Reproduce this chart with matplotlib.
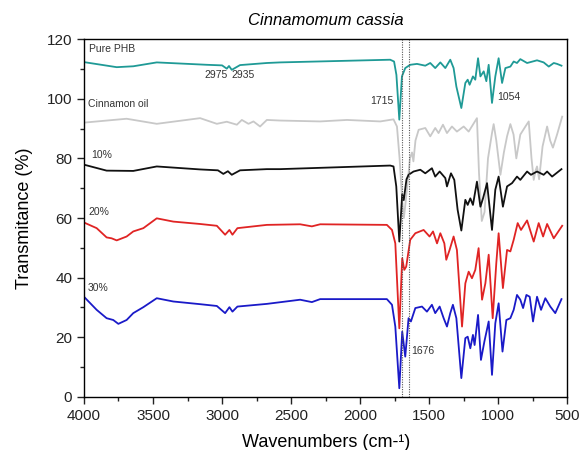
import matplotlib.pyplot as plt
from matplotlib.ticker import MultipleLocator

plt.rcParams["font.family"] = ["Liberation Sans", "DejaVu Sans"]

# Pure PHB
phb_wn = [4000, 3763, 3643, 3473, 3111, 3000, 2966, 2950, 2930, 2870, 2676, 2580,
          1783, 1755, 1738, 1717, 1698, 1674, 1638, 1589, 1529, 1493, 1457, 1420,
          1384, 1348, 1324, 1304, 1268, 1239, 1222, 1208, 1184, 1167, 1147, 1130,
          1106, 1087, 1070, 1046, 1022, 998, 973, 949, 913, 889, 865, 841, 792,
          720, 672, 635, 599, 575, 543]
phb_t = [112.3, 110.6, 110.9, 112.2, 111.4, 111.2, 110.1, 111.0, 109.7, 111.3, 112.0, 112.2,
         113.1, 112.5, 108.0, 93.0, 107.5, 110.3, 111.4, 111.7, 111.1, 112.0, 110.3, 112.2,
         110.3, 113.1, 110.3, 104.1, 96.9, 105.3, 106.4, 104.7, 107.5, 106.4, 113.6, 107.5,
         109.2, 105.9, 111.4, 98.6, 107.5, 113.6, 105.3, 110.3, 110.8, 112.5, 112.0, 113.3, 112.0,
         112.9, 112.2, 110.8, 112.0, 111.7, 111.1]

# Cinnamon oil
oil_wn = [4000, 3691, 3473, 3159, 3038, 2966, 2893, 2857, 2809, 2773, 2725, 2676, 2580,
          2290, 2096, 1855, 1759, 1734, 1715, 1695, 1684, 1670, 1650, 1640, 1625, 1615,
          1600, 1577, 1529, 1493, 1457, 1433, 1401, 1372, 1336, 1300, 1251, 1215, 1155,
          1140, 1120, 1100, 1075, 1046, 1034, 1015, 985, 960, 937, 913, 890, 870, 841,
          800, 780, 760, 744, 730, 720, 705, 680, 647, 625, 605, 575, 538]
oil_t = [92.0, 93.3, 91.6, 93.5, 91.6, 92.3, 91.3, 92.9, 91.6, 92.4, 90.7, 92.9, 92.7,
         92.4, 92.9, 92.4, 93.1, 90.7, 80.0, 65.0, 60.0, 66.0, 75.0, 80.0, 82.0, 79.0,
         86.0, 89.6, 90.2, 87.4, 90.2, 88.5, 91.3, 88.5, 90.7, 89.0, 90.7, 89.0, 93.5,
         75.0, 59.0, 62.0, 80.0, 88.5, 91.5, 86.0, 74.5, 82.0, 87.4, 91.5, 88.0, 80.0, 88.0,
         91.0, 92.4, 80.0, 72.8, 76.0, 77.3, 73.0, 84.0, 90.7, 86.0, 83.6, 88.0, 94.0]

# 10 %
p10_wn = [4000, 3836, 3643, 3473, 3159, 3030, 2991, 2958, 2930, 2870, 2676, 2580,
          1783, 1759, 1739, 1717, 1696, 1685, 1665, 1650, 1614, 1565, 1529, 1481, 1457,
          1425, 1384, 1372, 1343, 1319, 1295, 1268, 1239, 1222, 1203, 1184, 1155, 1130,
          1111, 1082, 1046, 1022, 998, 967, 937, 901, 865, 841, 792, 764, 720, 672, 647,
          611, 543]
p10_t = [77.9, 75.9, 75.8, 77.3, 76.3, 76.0, 74.8, 75.7, 74.5, 76.0, 76.4, 76.4,
         77.6, 77.3, 70.6, 52.1, 68.0, 66.0, 73.0, 74.5, 75.6, 76.2, 75.0, 76.7, 73.9,
         75.6, 73.4, 70.6, 75.0, 72.8, 62.8, 55.8, 66.1, 64.4, 66.6, 64.4, 72.2, 63.8,
         66.6, 71.7, 56.0, 69.5, 73.9, 63.8, 70.6, 71.7, 73.9, 72.8, 75.6, 74.5, 75.6, 74.5, 75.6,
         73.9, 76.4]

# 20 %
p20_wn = [4000, 3908, 3836, 3800, 3763, 3691, 3643, 3570, 3473, 3353, 3159, 3038, 2978,
          2947, 2925, 2889, 2676, 2435, 2350, 2290, 1807, 1770, 1746, 1717, 1696, 1681,
          1667, 1638, 1601, 1541, 1498, 1473, 1444, 1420, 1391, 1377, 1353, 1324, 1300,
          1263, 1239, 1215, 1191, 1167, 1143, 1118, 1094, 1070, 1041, 1015, 998, 967,
          937, 913, 889, 860, 836, 792, 744, 708, 676, 647, 599, 538]
p20_t = [58.5, 56.6, 53.5, 53.2, 52.5, 53.8, 55.5, 56.6, 59.9, 58.8, 58.0, 57.4, 54.4,
         56.0, 54.4, 56.6, 57.7, 57.9, 57.2, 57.9, 57.7, 56.0, 51.5, 23.0, 46.5, 42.6,
         43.7, 52.7, 54.9, 56.0, 53.8, 55.5, 51.5, 54.9, 51.5, 46.0, 49.3, 53.8, 49.3,
         23.6, 38.1, 42.0, 39.8, 42.6, 49.9, 32.6, 38.1, 47.7, 26.4, 44.8, 54.9, 36.5,
         49.3, 48.8, 52.7, 58.3, 56.0, 59.2, 52.1, 58.3, 53.8, 58.0, 53.2, 57.4]

# 30 %
p30_wn = [4000, 3908, 3836, 3788, 3751, 3691, 3643, 3570, 3473, 3353, 3159, 3038, 2978,
          2947, 2925, 2889, 2676, 2435, 2350, 2290, 1807, 1770, 1746, 1717, 1696, 1674,
          1650, 1633, 1601, 1553, 1517, 1481, 1457, 1425, 1396, 1372, 1348, 1329, 1304,
          1268, 1239, 1222, 1203, 1184, 1172, 1147, 1126, 1101, 1070, 1046, 1022, 998,
          970, 942, 913, 889, 865, 841, 821, 797, 773, 749, 720, 691, 660, 624, 588, 543]
p30_t = [33.6, 29.2, 26.4, 25.8, 24.5, 25.8, 28.1, 30.1, 33.1, 32.0, 31.1, 30.5, 28.1,
         30.1, 28.6, 30.3, 31.2, 32.6, 31.8, 32.8, 32.8, 30.9, 23.6, 2.9, 21.9, 13.5,
         26.4, 25.3, 29.8, 30.3, 28.6, 30.9, 28.1, 30.3, 26.4, 23.6, 28.1, 30.9, 26.4,
         6.3, 19.7, 20.2, 16.3, 20.8, 17.4, 27.5, 12.4, 18.6, 25.3, 7.4, 24.7, 31.4,
         15.2, 25.8, 26.4, 29.2, 34.2, 32.6, 29.8, 34.2, 33.6, 25.3, 33.6, 29.2, 33.1, 30.3, 28.1, 32.8]

marker_lines = [1700, 1650]

fig = plt.figure(figsize=(5.79, 4.5), dpi=100)
ax = fig.add_axes([0.145, 0.118, 0.835, 0.795])

lw = 1.3
ax.plot(phb_wn, phb_t, color="#1f9a96", lw=lw)
ax.plot(oil_wn, oil_t, color="#c8c8c8", lw=lw)
ax.plot(p10_wn, p10_t, color="#111111", lw=lw)
ax.plot(p20_wn, p20_t, color="#e02424", lw=lw)
ax.plot(p30_wn, p30_t, color="#1a1ac8", lw=lw)

for w in marker_lines:
    ax.axvline(w, color="#555555", ls=(0, (1, 1.2)), lw=0.8)

lab = dict(fontsize=7.5, color="#333333")
ax.text(3965, 115, "Pure PHB", va="bottom", **lab)
ax.text(3972, 96.5, "Cinnamon oil", va="bottom", **lab)
ax.text(3950, 79.5, "10%", va="bottom", **lab)
ax.text(3970, 60.5, "20%", va="bottom", **lab)
ax.text(3970, 34.8, "30%", va="bottom", **lab)
ax.text(3043, 108, "2975", ha="center", va="center", **lab)
ax.text(2848, 108, "2935", ha="center", va="center", **lab)
ax.text(1841, 99.2, "1715", ha="center", va="center", **lab)
ax.text(1008, 100.5, "1054", ha="left", va="center", **lab)
ax.text(1633, 15.4, "1676", ha="left", va="center", **lab)

ax.set_xlim(4000, 500)
ax.set_ylim(0, 120)
ax.xaxis.set_major_locator(MultipleLocator(500))
ax.xaxis.set_minor_locator(MultipleLocator(250))
ax.yaxis.set_major_locator(MultipleLocator(20))
ax.yaxis.set_minor_locator(MultipleLocator(10))
ax.tick_params(which="both", direction="out", top=False, right=False,
               labelsize=11, colors="#222222")
ax.tick_params(which="major", length=5, width=1)
ax.tick_params(which="minor", length=3, width=1)
for s in ax.spines.values():
    s.set_linewidth(1)

ax.set_xlabel("Wavenumbers (cm-¹)", fontsize=13, labelpad=8)
ax.set_ylabel("Transmitance (%)", fontsize=13, labelpad=10)
ax.set_title("Cinnamomum cassia", fontsize=12, style="italic", pad=10)

fig.savefig("out.png", dpi=100)
